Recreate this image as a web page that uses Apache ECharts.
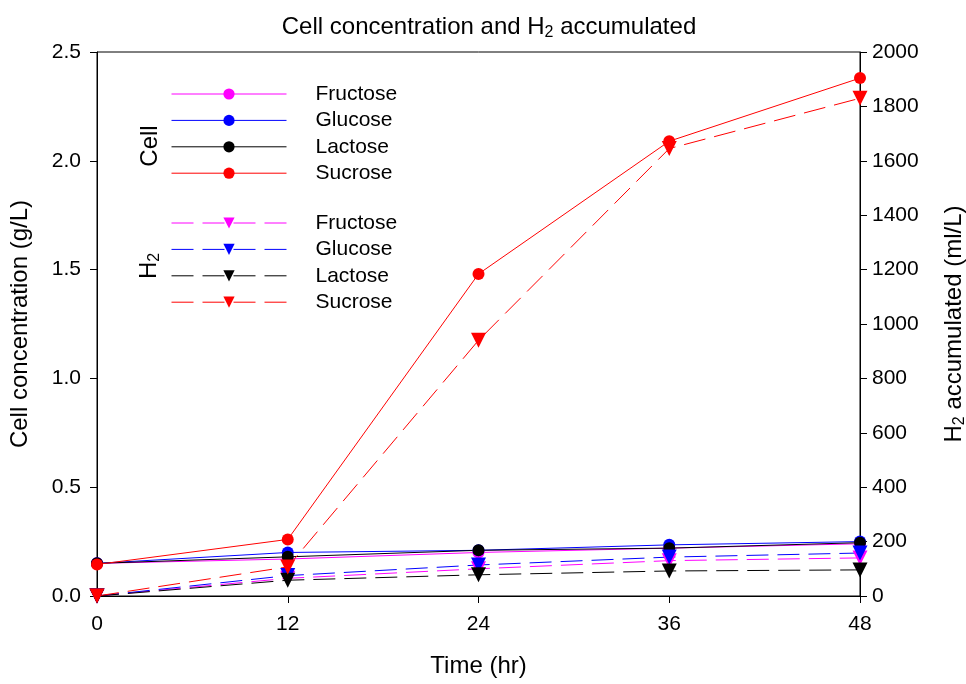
<!DOCTYPE html>
<html>
<head>
<meta charset="utf-8">
<script src="https://cdn.jsdelivr.net/npm/echarts@6/dist/echarts.min.js"></script>
<style>
  html, body { margin: 0; padding: 0; background: #fff; }
  #main { width: 966px; height: 684px; }
</style>
</head>
<body>
<div id="main"></div>
<script>
// time points (hr)
const hours = [0, 12, 24, 36, 48];

// cell concentration (g/L), left axis
const cellFructose = [0.15, 0.17, 0.20, 0.22, 0.24];
const cellGlucose = [0.15, 0.20, 0.21, 0.235, 0.25];
const cellLactose = [0.15, 0.18, 0.21, 0.22, 0.245];
const cellSucrose = [0.145, 0.26, 1.48, 2.09, 2.38];

// H2 accumulated (ml/L), right axis
const h2Fructose = [0, 65, 100, 130, 140];
const h2Glucose = [0, 75, 114, 143, 158];
const h2Lactose = [0, 58, 78, 92, 96];
const h2Sucrose = [0, 107, 940, 1645, 1830];

const sugars = ['Fructose', 'Glucose', 'Lactose', 'Sucrose'];
const colors = ['#ff00ff', '#0000ff', '#000000', '#ff0000'];
const cellData = [cellFructose, cellGlucose, cellLactose, cellSucrose];
const h2Data = [h2Fructose, h2Glucose, h2Lactose, h2Sucrose];

const font = 'Liberation Sans, Arial, sans-serif';

function pairs(vals) {
    return hours.map((h, i) => [h, vals[i]]);
}

let series = [];
sugars.forEach((s, i) => {
    series.push({
        name: 'Cell ' + s,
        type: 'line',
        yAxisIndex: 0,
        data: pairs(cellData[i]),
        symbol: 'circle',
        symbolSize: 12,
        color: colors[i],
        lineStyle: { width: 1, color: colors[i] },
        itemStyle: { color: colors[i] },
        z: 3
    });
});
sugars.forEach((s, i) => {
    series.push({
        name: 'H2 ' + s,
        type: 'line',
        yAxisIndex: 1,
        data: pairs(h2Data[i]),
        symbol: 'triangle',
        symbolRotate: 180,
        symbolSize: 15,
        color: colors[i],
        lineStyle: { width: 1, color: colors[i], type: [22, 9] },
        itemStyle: { color: colors[i] },
        z: 3
    });
});

const legendBase = {
    orient: 'vertical',
    left: 171,
    padding: 0,
    itemWidth: 115,
    itemHeight: 14,
    itemGap: 5.4,
    lineStyle: { width: 1 },
    formatter: name => name.replace(/^(Cell|H2) /, ''),
    textStyle: { fontFamily: font, fontSize: 21, color: '#000', padding: [0, 0, 0, 24] },
    selectedMode: false
};

let myChart = echarts.init(document.getElementById('main'));
myChart.setOption({
    animation: false,
    title: {
        text: '{a|Cell concentration and H}{s|2}{a| accumulated}',
        left: 484,
        textAlign: 'center',
        top: 8,
        textStyle: {
            fontWeight: 'normal',
            rich: {
                a: { fontFamily: font, fontSize: 24, color: '#000', fontWeight: 'normal' },
                s: { fontFamily: font, fontSize: 16, color: '#000', fontWeight: 'normal', padding: [12, 0, 0, 0] }
            }
        }
    },
    legend: [
        Object.assign({}, legendBase, {
            top: 83.5,
            data: sugars.map(s => 'Cell ' + s)
        }),
        Object.assign({}, legendBase, {
            top: 212.5,
            data: sugars.map(s => 'H2 ' + s)
        })
    ],
    graphic: [
        {
            type: 'text',
            x: 162, y: 146,
            rotation: Math.PI / 2,
            style: { text: 'Cell', font: '24px ' + font, fill: '#000', align: 'center', verticalAlign: 'bottom' }
        },
        {
            type: 'text',
            x: 163, y: 266,
            rotation: Math.PI / 2,
            style: {
                text: '{a|H}{s|2}',
                align: 'center',
                verticalAlign: 'bottom',
                rich: {
                    a: { fontFamily: font, fontSize: 24, fill: '#000' },
                    s: { fontFamily: font, fontSize: 16, fill: '#000', padding: [12, 0, 0, 0] }
                }
            }
        }
    ],
    grid: {
        left: 97,
        right: 106,
        top: 52,
        bottom: 88,
        outerBoundsMode: 'none',
        show: true,
        borderColor: '#000',
        borderWidth: 1
    },
    xAxis: {
        type: 'value',
        min: 0,
        max: 48,
        interval: 12,
        name: 'Time (hr)',
        nameLocation: 'middle',
        nameGap: 58,
        nameTextStyle: { fontFamily: font, fontSize: 24, color: '#000' },
        axisLine: { lineStyle: { color: '#000', width: 1 } },
        axisTick: { show: true, length: 7, lineStyle: { color: '#000' } },
        axisLabel: { fontFamily: font, fontSize: 21, color: '#000', margin: 18 },
        splitLine: { show: false }
    },
    yAxis: [
        {
            type: 'value',
            position: 'left',
            min: 0,
            max: 2.5,
            interval: 0.5,
            name: 'Cell concentration (g/L)',
            nameLocation: 'middle',
            nameGap: 65,
            nameTextStyle: { fontFamily: font, fontSize: 24, color: '#000' },
            axisLine: { show: true, lineStyle: { color: '#000', width: 1 } },
            axisTick: { show: true, length: 7, lineStyle: { color: '#000' } },
            axisLabel: {
                fontFamily: font, fontSize: 21, color: '#000', margin: 16,
                formatter: v => v.toFixed(1)
            },
            splitLine: { show: false }
        },
        {
            type: 'value',
            position: 'right',
            min: 0,
            max: 2000,
            interval: 200,
            name: '{a|H}{s|2}{a| accumulated (ml/L)}',
            nameLocation: 'middle',
            nameGap: 80,
            nameTextStyle: {
                rich: {
                    a: { fontFamily: font, fontSize: 24, color: '#000' },
                    s: { fontFamily: font, fontSize: 16, color: '#000', padding: [12, 0, 0, 0] }
                }
            },
            axisLine: { show: true, lineStyle: { color: '#000', width: 1 } },
            axisTick: { show: true, length: 7, lineStyle: { color: '#000' } },
            axisLabel: {
                fontFamily: font, fontSize: 21, color: '#000', margin: 12,
                formatter: v => String(v)
            },
            splitLine: { show: false }
        }
    ],
    series: series
});
</script>
</body>
</html>
